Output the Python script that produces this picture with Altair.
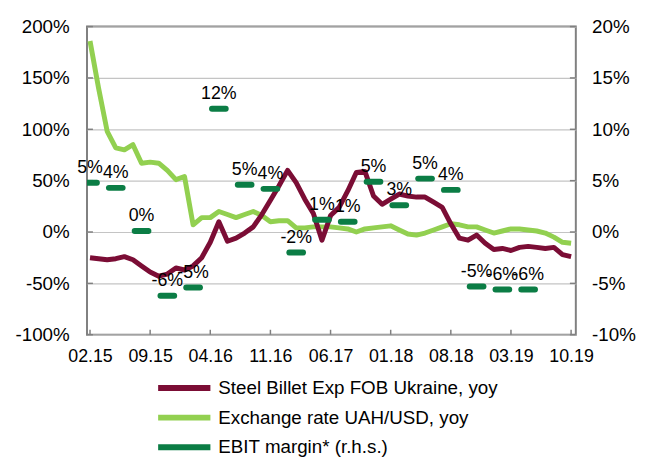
import altair as alt
import pandas as pd

# ---------------- data ----------------
month_names = [f"{(m + 1) % 12 + 1:02d}.{15 + (m + 1) // 12}" for m in range(57)]  # 02.15 .. 10.19
tick_labels = ["02.15", "09.15", "04.16", "11.16", "06.17", "01.18", "08.18", "03.19", "10.19"]
left_ticks = [-100, -50, 0, 50, 100, 150, 200]
right_ticks = [-10, -5, 0, 5, 10, 15, 20]

steel = [-25, -26, -27, -26, -24, -27, -33, -39, -43, -41,
         -35, -37, -33, -25, -10, 10, -9, -6, -1, 5,
         17, 31, 45, 60, 48, 32, 18, -8, 16, 24,
         40, 58, 59, 35, 27, 32, 37, 35, 34, 34,
         29, 24, 8, -6, -8, -3, -11, -17, -16, -18,
         -15, -14, -15, -16, -15, -22, -24]

uah = [186, 140, 98, 82, 80, 85, 67, 68, 67, 60,
       51, 54, 7, 14, 14, 20, 17, 14, 17, 20,
       16, 10, 11, 11, 4, 4, 5, 5, 5, 4,
       3, 0, 3, 4, 5, 6, 2, -2, -3, -1,
       2, 5, 8, 7, 5, 5, 2, -1, 1, 3,
       3, 2, 1, -1, -5, -10, -11]

ebit_periods = ["02.15", "05.15", "08.15", "11.15", "02.16", "05.16", "08.16", "11.16", "02.17",
                "05.17", "08.17", "11.17", "02.18", "05.18", "08.18", "11.18", "02.19", "05.19"]
ebit = [4.8, 4.3, 0.1, -6.2, -5.4, 12.0, 4.6, 4.2, -2.0, 1.2, 1.0, 4.9, 2.6, 5.2, 4.1, -5.3, -5.6, -5.6]

S = "Steel Billet Exp FOB Ukraine, yoy"
E = "Exchange rate UAH/USD, yoy"
M = "EBIT margin* (r.h.s.)"

RED, LG, DG = "#7B0D35", "#92D050", "#0B7D45"
AX = "#808080"
FONT = "Liberation Sans"
W, H = 495, 312

df_lines = pd.DataFrame({
    "m": list(range(len(steel))) + list(range(len(uah))),
    "v": steel + uah,
    "series": [S] * len(steel) + [E] * len(uah),
})
df_ebit = pd.DataFrame({
    "m": [month_names.index(p) for p in ebit_periods],
    "v": ebit,
    "series": M,
})
tick_idx = [month_names.index(t) for t in tick_labels]
df_xt = pd.DataFrame({"m": tick_idx})
df_lt = pd.DataFrame({"v": left_ticks})
df_rt = pd.DataFrame({"v": right_ticks})

# ---------------- scales / axes ----------------
xscale = alt.Scale(domain=[-0.35, 56.55], nice=False, zero=False)
lab_js = "[" + ",".join(f"'{t}'" for t in tick_labels) + "]"
x_axis = alt.Axis(values=tick_idx,
                  labelExpr=f"{lab_js}[indexof({tick_idx}, datum.value)]",
                  grid=False, ticks=False, domain=False, labelFontSize=18,
                  labelPadding=13, title=None, labelFont=FONT, labelColor="black")

yl_scale = alt.Scale(domain=[-100, 200], nice=False, zero=False)
yl_axis = alt.Axis(values=left_ticks, labelExpr="datum.value + '%'",
                   grid=True, gridColor="#C4C4C4", gridWidth=1.2, ticks=False, domain=False,
                   labelFontSize=19, labelPadding=18, title=None, labelFont=FONT, labelColor="black")

yr_scale = alt.Scale(domain=[-10, 20], nice=False, zero=False)
yr_axis = alt.Axis(values=right_ticks, labelExpr="datum.value + '%'", orient="right",
                   grid=False, ticks=False, domain=False, labelFontSize=19, labelPadding=16,
                   title=None, labelFont=FONT, labelColor="black")

color = alt.Color("series:N",
                  scale=alt.Scale(domain=[S, E, M], range=[RED, LG, DG]),
                  legend=alt.Legend(title=None, orient="none", legendX=69, legendY=351,
                                    direction="vertical", symbolType="stroke", symbolSize=2800,
                                    symbolStrokeWidth=6, labelFontSize=19, labelFont=FONT,
                                    labelColor="black", labelOffset=5, labelLimit=0,
                                    clipHeight=30, rowPadding=0, padding=0))

base = alt.Chart(df_lines)
green = base.transform_filter(alt.datum.series == E).mark_line(strokeWidth=5, strokeJoin="round").encode(
    x=alt.X("m:Q", scale=xscale, axis=x_axis),
    y=alt.Y("v:Q", scale=yl_scale, axis=yl_axis),
    color=color,
)
red = base.transform_filter(alt.datum.series == S).mark_line(strokeWidth=5, strokeJoin="round").encode(
    x=alt.X("m:Q", scale=xscale, axis=x_axis),
    y=alt.Y("v:Q", scale=yl_scale, axis=yl_axis),
    color=color,
)
# inward tick marks
lticks = alt.Chart(df_lt).mark_rule(color=AX, strokeWidth=1.5).encode(
    y=alt.Y("v:Q", scale=yl_scale, axis=yl_axis), x=alt.value(0), x2=alt.value(6))
xticks = alt.Chart(df_xt).mark_rule(color=AX, strokeWidth=1.5).encode(
    x=alt.X("m:Q", scale=xscale, axis=x_axis), y=alt.value(H), y2=alt.value(H - 5))

eb = alt.Chart(df_ebit).transform_calculate(
    xa="datum.m - 0.8", xb="datum.m + 0.8", lab="round(datum.v) + '%'"
)
dash = eb.mark_rule(strokeWidth=6, strokeCap="round", clip=True).encode(
    x=alt.X("xa:Q", scale=xscale, axis=x_axis),
    x2="xb:Q",
    y=alt.Y("v:Q", scale=yr_scale, axis=yr_axis),
    color=color,
)
txt = eb.mark_text(fontSize=18, font=FONT, color="black", baseline="alphabetic", dy=-10).encode(
    x=alt.X("m:Q", scale=xscale, axis=x_axis),
    y=alt.Y("v:Q", scale=yr_scale, axis=yr_axis),
    text="lab:N",
)
rticks = alt.Chart(df_rt).mark_rule(color=AX, strokeWidth=1.5).encode(
    y=alt.Y("v:Q", scale=yr_scale, axis=yr_axis), x=alt.value(W - 6), x2=alt.value(W))

left = alt.layer(lticks, xticks, green, red)
right = alt.layer(rticks, dash, txt)

chart = alt.layer(left, right).resolve_scale(y="independent").properties(
    width=W, height=H,
    autosize=alt.AutoSizeParams(type="none"),
    padding={"left": 80, "top": 16, "right": 66, "bottom": 121},
    background="white",
).configure_view(stroke=AX, strokeWidth=2)

chart.save("out.html", embed_options={"renderer": "svg", "actions": False})
